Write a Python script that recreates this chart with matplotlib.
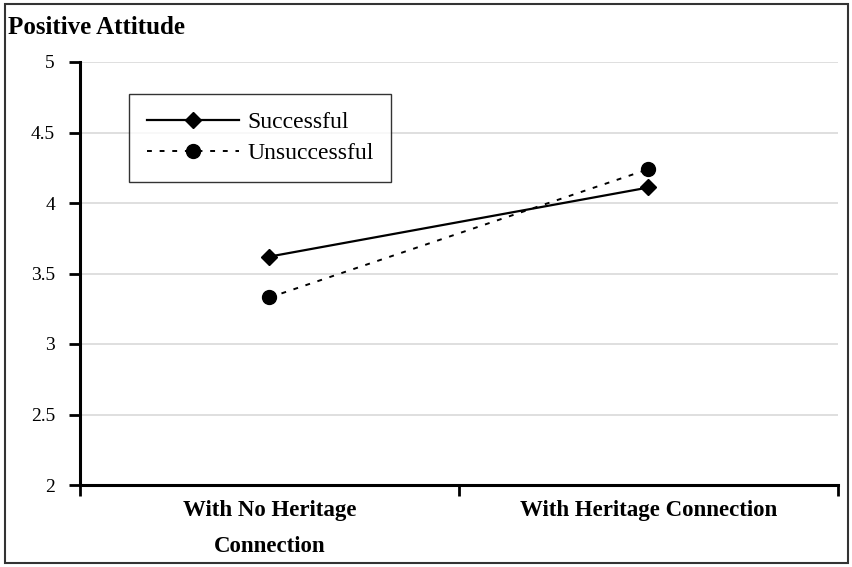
import matplotlib
matplotlib.use("Agg")
import matplotlib.pyplot as plt
from matplotlib.patches import Rectangle

# -----------------------------
# data
# -----------------------------
categories = ["With No Heritage\nConnection", "With Heritage Connection"]
successful = [3.62, 4.11]
unsuccessful = [3.33, 4.24]
y_ticks = [2, 2.5, 3, 3.5, 4, 4.5, 5]
y_labels = ["2", "2.5", "3", "3.5", "4", "4.5", "5"]

plt.rcParams["font.family"] = ["Liberation Serif", "DejaVu Serif"]

W, H = 853, 567
fig = plt.figure(figsize=(W / 100, H / 100), dpi=100)

# outer frame
fig.patches.append(Rectangle((5 / W, 4 / H), 843 / W, 559 / H, transform=fig.transFigure,
                             fill=False, edgecolor="#333333", linewidth=1.5))

ax = fig.add_axes([80 / W, (H - 485) / H, (838 - 80) / W, (485 - 62) / H])

x = [0.5, 1.5]
ax.plot(x, successful, color="black", lw=1.6, marker="D", markersize=8, label="Successful")
ax.plot(x, unsuccessful, color="black", lw=1.4, linestyle=(0, (2.5, 4)), marker="o",
        markersize=10, label="Unsuccessful")

ax.set_xlim(0, 2)
ax.set_ylim(2, 5)
ax.set_yticks(y_ticks)
ax.set_yticklabels(y_labels, fontsize=14)
ax.set_xticks([0, 1, 2])
ax.set_xticklabels([])
ax.set_xticks(x, minor=True)
ax.set_xticklabels(categories, minor=True, fontsize=16.5, fontweight="bold", linespacing=1.95)
ax.tick_params(axis="x", which="minor", length=0, pad=11)
ax.tick_params(axis="x", which="major", length=8, width=2, direction="out")
ax.tick_params(axis="y", length=8, width=2, direction="out", pad=10)

ax.grid(axis="y", color="#d9d9d9", lw=1.2)
ax.set_axisbelow(True)
for s in ["top", "right"]:
    ax.spines[s].set_visible(False)
for s in ["left", "bottom"]:
    ax.spines[s].set_linewidth(2.2)

leg = ax.legend(loc="upper left", bbox_to_anchor=(0.065, 0.925), fontsize=17, frameon=True,
                fancybox=False, edgecolor="black", handlelength=3.9, borderpad=0.75,
                labelspacing=0.4, handletextpad=0.35, borderaxespad=0)
leg.get_frame().set_linewidth(1.0)

fig.text(8 / W, 1 - 28 / H, "Positive Attitude", fontsize=18, fontweight="bold", va="center")

fig.savefig("out.png", dpi=100)
